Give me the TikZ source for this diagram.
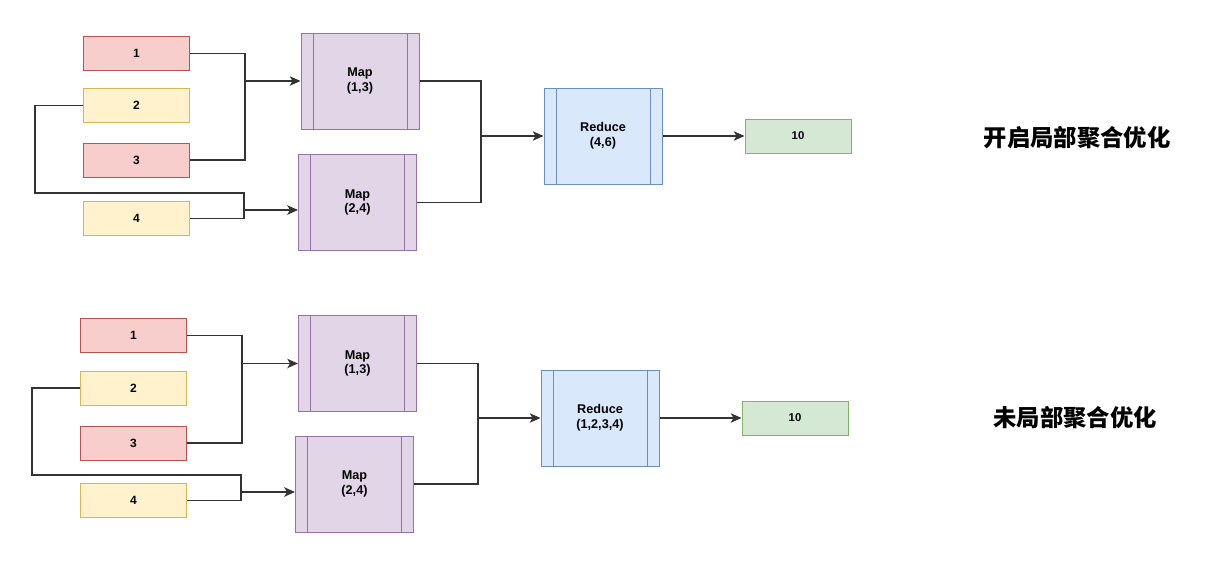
\documentclass[tikz,border=0pt]{standalone}
\usepackage{fontspec}
\setmainfont{Liberation Sans}
\newfontfamily\cjkfont{Noto Sans CJK SC}
\usetikzlibrary{arrows.meta, positioning, calc}
\definecolor{redfill}{HTML}{F8CECC}
\definecolor{redline}{HTML}{B85450}
\definecolor{yellowfill}{HTML}{FFF2CC}
\definecolor{yellowline}{HTML}{D6B656}
\definecolor{mapfill}{HTML}{E1D5E7}
\definecolor{mapline}{HTML}{9673A6}
\definecolor{reducefill}{HTML}{DAE8FC}
\definecolor{reduceline}{HTML}{6C8EBF}
\definecolor{greenfill}{HTML}{D5E8D4}
\definecolor{greenline}{HTML}{82B366}
\definecolor{wirecolor}{HTML}{333333}
\tikzset{
  cell/.style={rectangle, minimum width=79.5pt, minimum height=25.5pt, inner sep=0pt,
    line width=0.75pt, font=\fontsize{9}{10}\selectfont\bfseries},
  redcell/.style={cell, draw=redline, fill=redfill},
  yellowcell/.style={cell, draw=yellowline, fill=yellowfill},
  greencell/.style={cell, draw=greenline, fill=greenfill, font=\fontsize{8.5}{10}\selectfont\bfseries},
  proc/.style={rectangle, minimum width=88.5pt, minimum height=72pt, inner sep=0pt, align=center,
    line width=0.75pt, font=\fontsize{9.5}{11}\selectfont\bfseries,
    path picture={\draw[#1, line width=0.75pt]
      ([xshift=9pt]path picture bounding box.north west) -- ([xshift=9pt]path picture bounding box.south west)
      ([xshift=-9pt]path picture bounding box.north east) -- ([xshift=-9pt]path picture bounding box.south east);}},
  mapbox/.style={proc=mapline, draw=mapline, fill=mapfill},
  reducebox/.style={proc=reduceline, draw=reduceline, fill=reducefill},
  title/.style={inner sep=0pt, font=\cjkfont\bfseries\fontsize{17.5}{20}\selectfont},
  wire/.style={draw=wirecolor, line width=1pt},
  arr/.style={-{Stealth[length=8pt, width=7pt, inset=2pt]}}
}
\begin{document}
\begin{tikzpicture}[x=0.75pt, y=-0.75pt]
  \useasboundingbox (0,0) rectangle (1229,569);

  % with local aggregation
  \node[redcell] (a1) at (136.5,53.3) {1};
  \node[yellowcell] (a2) at (136.5,105.5) {2};
  \node[redcell] (a3) at (136.5,160) {3};
  \node[yellowcell] (a4) at (136.5,218.7) {4};
  \node[mapbox] (am1) at (360,81) {Map\\(1,3)};
  \node[mapbox] (am2) at (357.5,202.5) {Map\\(2,4)};
  \node[reducebox] (ar) at (603,136) {Reduce\\(4,6)};
  \node[greencell] (ao) at (798,136) {10};
  \node[title] (at) at (1077,137.5) {开启局部聚合优化};
  \coordinate (aj1) at (245,81);
  \coordinate (ak) at (35,193);
  \coordinate (aj2) at (244,210);
  \coordinate (aj3) at (481,136);
  \draw[wire] (a1.east) -| (aj1) |- (a3.east);
  \draw[wire, arr] (aj1) -- (am1.west);
  \draw[wire] (a2.west) -| (ak) -| (aj2) |- (a4.east);
  \draw[wire, arr, line width=1.6pt] (aj2) -- (aj2 -| am2.west);
  \draw[wire] (am1.east) -| (aj3) |- (am2.east);
  \draw[wire, arr] (aj3) -- (ar.west);
  \draw[wire, arr] (ar.east) -- (ao.west);

  % without local aggregation
  \node[redcell] (b1) at (133.5,335.5) {1};
  \node[yellowcell] (b2) at (133.5,388) {2};
  \node[redcell] (b3) at (133.5,443) {3};
  \node[yellowcell] (b4) at (133.5,500.5) {4};
  \node[mapbox] (bm1) at (357.5,363.5) {Map\\(1,3)};
  \node[mapbox] (bm2) at (354.5,484) {Map\\(2,4)};
  \node[reducebox] (br) at (600,418) {Reduce\\(1,2,3,4)};
  \node[greencell] (bo) at (795,418) {10};
  \node[title] (bt) at (1075,418) {未局部聚合优化};
  \coordinate (bj1) at (242,363.5);
  \coordinate (bk) at (32,475);
  \coordinate (bj2) at (241,492);
  \coordinate (bj3) at (478,418);
  \draw[wire] (b1.east) -| (bj1) |- (b3.east);
  \draw[wire, arr] (bj1) -- (bm1.west);
  \draw[wire] (b2.west) -| (bk) -| (bj2) |- (b4.east);
  \draw[wire, arr, line width=1.6pt] (bj2) -- (bj2 -| bm2.west);
  \draw[wire] (bm1.east) -| (bj3) |- (bm2.east);
  \draw[wire, arr] (bj3) -- (br.west);
  \draw[wire, arr] (br.east) -- (bo.west);
\end{tikzpicture}
\end{document}
